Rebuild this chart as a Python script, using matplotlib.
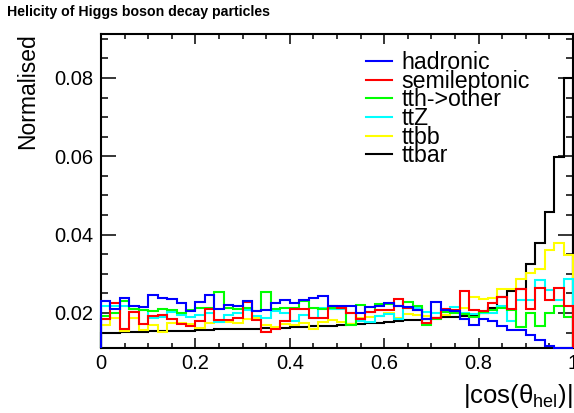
import numpy as np
import matplotlib
matplotlib.use("Agg")
from matplotlib import pyplot as plt
from matplotlib.ticker import MultipleLocator

plt.rcParams["font.family"] = ["Liberation Sans", "DejaVu Sans"]
plt.rcParams["mathtext.fontset"] = "custom"
plt.rcParams["mathtext.rm"] = "Liberation Sans"

# 50 bins in |cos(theta_hel)| from 0 to 1
bin_edges = np.linspace(0.0, 1.0, 51)

hadronic = [0.0231, 0.0209, 0.0237, 0.0218, 0.0215, 0.0246, 0.0237, 0.0236, 0.0226, 0.0206,
            0.0229, 0.0246, 0.0209, 0.0220, 0.0218, 0.0231, 0.0206, 0.0207, 0.0226, 0.0233,
            0.0226, 0.0233, 0.0239, 0.0243, 0.0218, 0.0218, 0.0218, 0.0201, 0.0215, 0.0218,
            0.0226, 0.0218, 0.0215, 0.0208, 0.0184, 0.0229, 0.0208, 0.0206, 0.0184, 0.0170,
            0.0185, 0.0180, 0.0168, 0.0157, 0.0157, 0.0145, 0.0132, 0.0115, 0.0100, 0.0095]
semileptonic = [0.0185, 0.0226, 0.0160, 0.0203, 0.0172, 0.0193, 0.0194, 0.0185, 0.0172, 0.0166,
                0.0180, 0.0210, 0.0181, 0.0182, 0.0188, 0.0228, 0.0181, 0.0152, 0.0160, 0.0180,
                0.0209, 0.0209, 0.0186, 0.0188, 0.0218, 0.0214, 0.0199, 0.0185, 0.0203, 0.0207,
                0.0208, 0.0236, 0.0214, 0.0207, 0.0174, 0.0186, 0.0210, 0.0208, 0.0256, 0.0208,
                0.0205, 0.0225, 0.0240, 0.0210, 0.0260, 0.0211, 0.0265, 0.0234, 0.0263, 0.0218]
tth_other = [0.0193, 0.0200, 0.0230, 0.0210, 0.0208, 0.0204, 0.0210, 0.0208, 0.0200, 0.0207,
             0.0213, 0.0212, 0.0254, 0.0214, 0.0210, 0.0212, 0.0205, 0.0254, 0.0210, 0.0213,
             0.0212, 0.0231, 0.0213, 0.0210, 0.0213, 0.0212, 0.0169, 0.0220, 0.0203, 0.0222,
             0.0224, 0.0218, 0.0229, 0.0218, 0.0169, 0.0184, 0.0203, 0.0199, 0.0197, 0.0190,
             0.0203, 0.0208, 0.0214, 0.0207, 0.0163, 0.0200, 0.0168, 0.0200, 0.0219, 0.0189]
ttz = [0.0217, 0.0219, 0.0217, 0.0210, 0.0208, 0.0186, 0.0190, 0.0202, 0.0196, 0.0191,
       0.0196, 0.0200, 0.0178, 0.0196, 0.0201, 0.0208, 0.0193, 0.0188, 0.0204, 0.0200,
       0.0180, 0.0196, 0.0188, 0.0214, 0.0210, 0.0211, 0.0200, 0.0180, 0.0176, 0.0192,
       0.0197, 0.0185, 0.0214, 0.0212, 0.0203, 0.0200, 0.0203, 0.0215, 0.0199, 0.0198,
       0.0199, 0.0199, 0.0217, 0.0179, 0.0233, 0.0233, 0.0283, 0.0259, 0.0233, 0.0286]
ttbb = [0.0169, 0.0186, 0.0153, 0.0186, 0.0157, 0.0169, 0.0151, 0.0174, 0.0175, 0.0173,
        0.0162, 0.0175, 0.0178, 0.0176, 0.0175, 0.0185, 0.0186, 0.0169, 0.0163, 0.0172,
        0.0170, 0.0175, 0.0158, 0.0176, 0.0182, 0.0178, 0.0172, 0.0188, 0.0190, 0.0192,
        0.0200, 0.0188, 0.0198, 0.0195, 0.0192, 0.0188, 0.0196, 0.0200, 0.0212, 0.0240,
        0.0235, 0.0237, 0.0262, 0.0262, 0.0286, 0.0303, 0.0312, 0.0360, 0.0379, 0.0348]
ttbar = [0.0148, 0.0150, 0.0151, 0.0152, 0.0152, 0.0153, 0.0153, 0.0154, 0.0155, 0.0155,
         0.0156, 0.0157, 0.0158, 0.0158, 0.0159, 0.0160, 0.0160, 0.0161, 0.0162, 0.0162,
         0.0163, 0.0164, 0.0166, 0.0167, 0.0168, 0.0170, 0.0171, 0.0172, 0.0174, 0.0175,
         0.0177, 0.0179, 0.0181, 0.0183, 0.0185, 0.0187, 0.0189, 0.0191, 0.0193, 0.0196,
         0.0200, 0.0213, 0.0240, 0.0255, 0.0260, 0.0325, 0.0379, 0.0458, 0.0598, 0.0800]

labels = ["hadronic", "semileptonic", "tth->other", "ttZ", "ttbb", "ttbar"]
colors = ["#0000ff", "#ff0000", "#00ff00", "#00ffff", "#ffff00", "#000000"]
series = [hadronic, semileptonic, tth_other, ttz, ttbb, ttbar]

Y_MIN, Y_MAX = 0.01106, 0.09123

fig = plt.figure(figsize=(5.74, 4.13), dpi=100)
ax = fig.add_axes([101 / 574, 1 - 348 / 413, 472 / 574, 314 / 413])

handles = {}
# draw in reverse so hadronic ends up on top, like the ROOT canvas
for vals, lab, col in reversed(list(zip(series, labels, colors))):
    h = ax.stairs(np.clip(vals, Y_MIN, None), bin_edges, baseline=Y_MIN,
                  color=col, lw=1.5, label=lab, zorder=3, clip_on=False)
    handles[lab] = h

ax.set_xlim(0, 1)
ax.set_ylim(Y_MIN, Y_MAX)

ax.xaxis.set_major_locator(MultipleLocator(0.2))
ax.xaxis.set_minor_locator(MultipleLocator(0.05))
ax.yaxis.set_major_locator(MultipleLocator(0.02))
ax.yaxis.set_minor_locator(MultipleLocator(0.005))
ax.set_xticks([0, 0.2, 0.4, 0.6, 0.8, 1.0], ["0", "0.2", "0.4", "0.6", "0.8", "1"])
ax.set_yticks([0.02, 0.04, 0.06, 0.08], ["0.02", "0.04", "0.06", "0.08"])

ax.tick_params(which="both", direction="in", top=True, right=True, width=1.1, labelsize=14.5)
ax.tick_params(axis="x", which="major", length=7, pad=4.5)
ax.tick_params(axis="x", which="minor", length=3.5)
ax.tick_params(axis="y", which="major", length=10.5, pad=5.5)
ax.tick_params(axis="y", which="minor", length=5)
for sp in ax.spines.values():
    sp.set_linewidth(1.5)

leg = ax.legend([handles[l] for l in labels], labels, loc="upper left",
                bbox_to_anchor=(0.561, 0.945), borderaxespad=0, borderpad=0,
                frameon=False, fontsize=16.7, handlelength=1.13, handletextpad=0.4,
                labelspacing=-0.19)

fig.text(7 / 574, 1 - 12 / 413, "Helicity of Higgs boson decay particles",
         fontsize=10.2, fontweight="bold", ha="left", va="center")
fig.text(28 / 574, 1 - 33 / 413, "Normalised", rotation=90, fontsize=16.5,
         ha="center", va="top")
fig.text(573 / 574, 1 - 396 / 413, r"|cos(θ$_{\mathregular{hel}}$)|", fontsize=18.5,
         ha="right", va="center")

fig.savefig("out.png", dpi=100)
